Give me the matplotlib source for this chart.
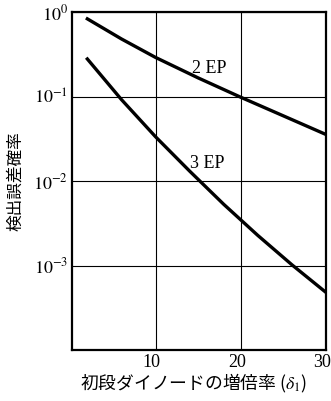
import matplotlib.pyplot as plt
import matplotlib.transforms as mtransforms

plt.rcParams['font.family'] = ['Liberation Serif', 'Noto Sans CJK JP']
plt.rcParams['mathtext.fontset'] = 'stix'

# gain of the first dynode vs. detection error probability
gain_2ep = [2, 6, 10, 15, 20, 25, 30]
err_2ep = [0.83, 0.48, 0.29, 0.166, 0.098, 0.059, 0.0355]

gain_3ep = [2, 6, 10, 14, 18, 22, 26, 30]
err_3ep = [0.278, 0.092, 0.0334, 0.0131, 0.0053, 0.00227, 0.00102, 0.00048]

fig = plt.figure(figsize=(3.31, 4.01), dpi=100)
ax = fig.add_axes([72 / 331, 51 / 401, 254 / 331, 338 / 401])

ax.plot(gain_2ep, err_2ep, color='black', lw=2.4, solid_joinstyle='round')
ax.plot(gain_3ep, err_3ep, color='black', lw=2.4, solid_joinstyle='round')

ax.set_yscale('log')
ax.set_xlim(0.2, 30)
ax.set_ylim(1e-4, 1)

ax.set_xticks([10, 20, 30])
ax.set_xticklabels(['10', '20', '30'], fontsize=13)
ax.set_yticks([1, 1e-1, 1e-2, 1e-3])
ax.set_yticklabels([r'$10^{0}$', r'$10^{-1}$', r'$10^{-2}$', r'$10^{-3}$'],
                   fontsize=13)
ax.yaxis.set_minor_locator(plt.NullLocator())
ax.tick_params(length=0, pad=3)

# nudge the x tick labels a little to the left
shift = mtransforms.ScaledTranslation(-4 / 100, 0, fig.dpi_scale_trans)
for lbl in ax.get_xticklabels():
    lbl.set_transform(lbl.get_transform() + shift)

ax.grid(True, color='black', lw=0.8)
for s in ax.spines.values():
    s.set_linewidth(1.6)

ax.text(16.3, 0.217, '2 EP', fontsize=13, ha='center', va='center')
ax.text(16.1, 0.016, '3 EP', fontsize=13, ha='center', va='center')

ax.set_ylabel('検出誤差確率', fontsize=12, family='Noto Sans CJK JP', labelpad=6)
fig.text(194 / 331, 1 - 383 / 401, '初段ダイノードの増倍率 ($\\delta_1$)',
         fontsize=12.8, family=['Noto Sans CJK JP', 'DejaVu Sans'],
         ha='center', va='center')

fig.savefig('out.png', dpi=100, facecolor='white')
